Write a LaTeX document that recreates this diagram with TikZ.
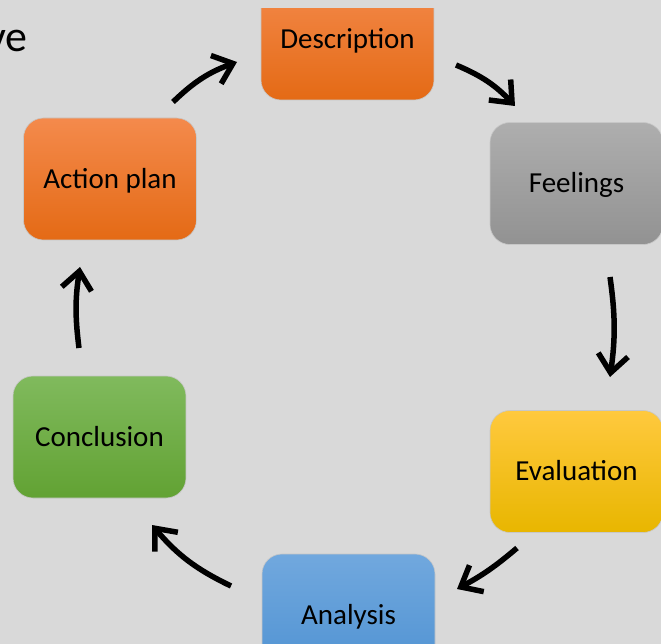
\documentclass[tikz,border=0pt]{standalone}
\usepackage{fontspec}
\setmainfont{Carlito}
\usetikzlibrary{arrows.meta}
\definecolor{bg}{HTML}{D9D9D9}
\definecolor{orT}{HTML}{F48A4C}
\definecolor{orB}{HTML}{E46A15}
\definecolor{grT}{HTML}{AEAEAE}
\definecolor{grB}{HTML}{929292}
\definecolor{yeT}{HTML}{FFC93E}
\definecolor{yeB}{HTML}{E8B600}
\definecolor{gnT}{HTML}{80BA5D}
\definecolor{gnB}{HTML}{62A233}
\definecolor{blT}{HTML}{71A8DE}
\definecolor{blB}{HTML}{4F92D2}
\tikzset{
  stagebox/.style={rectangle, rounded corners=20pt, minimum width=173pt, minimum height=122pt,
    inner sep=0pt, text height=18.7pt, text depth=0pt, draw=black!22, line width=0.6pt,
    font=\fontsize{29}{29}\selectfont, text=black},
  cyclearrow/.style={line width=5.5pt, black, -{Straight Barb[length=18pt, width=30pt, line width=5.5pt]}}
}
\begin{document}
\begin{tikzpicture}[x=1pt,y=1pt]
\useasboundingbox (0,0) rectangle (661,-644);
\clip (0,0) rectangle (661,-644);
\fill[bg] (0,0) rectangle (661,-644);
\node[anchor=base east, inner sep=0pt, font=\fontsize{44}{44}\selectfont] (ve) at (28,-52) {ve};
\begin{scope}
\clip (0,-9) rectangle (661,-644);
\node[stagebox, top color=orT, bottom color=orB] (desc) at (347.5,-39) {Description};
\end{scope}
\node[stagebox, top color=grT, bottom color=grB] (feel) at (576.5,-183.5) {Feelings};
\node[stagebox, top color=yeT, bottom color=yeB] (eval) at (576.5,-471.5) {Evaluation};
\node[stagebox, top color=blT, bottom color=blB] (anal) at (348.5,-615) {Analysis};
\node[stagebox, top color=gnT, bottom color=gnB] (conc) at (99.5,-437) {Conclusion};
\node[stagebox, top color=orT, bottom color=orB] (act) at (110,-179) {Action plan};
\coordinate (a1s) at (173,-102);
\coordinate (a1e) at (237,-62);
\coordinate (a2s) at (456,-65);
\coordinate (a2e) at (515,-106);
\coordinate (a3s) at (610,-277);
\coordinate (a3e) at (610,-377);
\coordinate (a4s) at (517,-548);
\coordinate (a4e) at (457,-589);
\coordinate (a5s) at (231,-586);
\coordinate (a5e) at (152,-525);
\coordinate (a6s) at (79,-348);
\coordinate (a6e) at (80,-267);
\draw[cyclearrow] (a1s) to[bend left=12] (a1e);
\draw[cyclearrow] (a2s) to[bend left=12] (a2e);
\draw[cyclearrow] (a3s) to[bend left=8] (a3e);
\draw[cyclearrow] (a4s) to[bend left=6] (a4e);
\draw[cyclearrow] (a5s) to[bend left=12] (a5e);
\draw[cyclearrow] (a6s) to[bend left=8] (a6e);
\end{tikzpicture}
\end{document}
